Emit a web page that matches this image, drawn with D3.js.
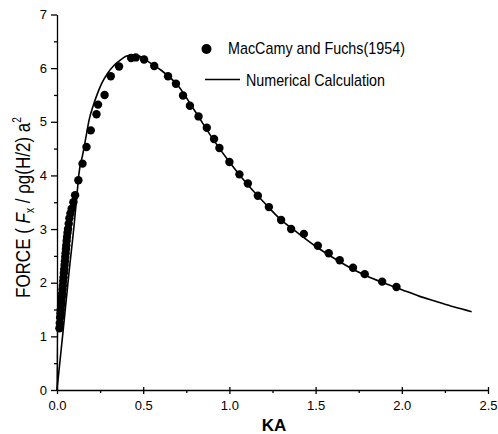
<!DOCTYPE html>
<html>
<head>
<meta charset="utf-8">
<script src="https://cdn.jsdelivr.net/npm/d3@7"></script>
<style>
  html, body { margin: 0; padding: 0; background: #fff; }
  svg { display: block; font-family: Arial, "Liberation Sans", sans-serif; }
  .axis path, .axis line { stroke: #000; stroke-width: 1.3; }
  .axis text { font-size: 13px; fill: #000; }
</style>
</head>
<body>
<div id="chart"></div>
<script>
// MacCamy and Fuchs (1954) measured points: KA and force
const dotKA = [0.014, 0.016, 0.018, 0.020, 0.022, 0.024, 0.026, 0.028, 0.030, 0.032,
  0.034, 0.036, 0.038, 0.040, 0.042, 0.044, 0.046, 0.048, 0.050, 0.052, 0.054, 0.056,
  0.058, 0.061, 0.064, 0.068, 0.072, 0.078, 0.085, 0.095, 0.105, 0.124, 0.148, 0.171,
  0.196, 0.229, 0.238, 0.276, 0.312, 0.360, 0.430, 0.457, 0.505, 0.564, 0.644, 0.690,
  0.731, 0.771, 0.821, 0.869, 0.911, 0.942, 1.000, 1.058, 1.107, 1.165, 1.229, 1.300,
  1.358, 1.432, 1.513, 1.576, 1.640, 1.717, 1.785, 1.886, 1.969];
const dotForce = [1.15, 1.25, 1.35, 1.43, 1.50, 1.58, 1.65, 1.73, 1.80, 1.88,
  1.95, 2.03, 2.10, 2.18, 2.25, 2.33, 2.40, 2.48, 2.55, 2.63, 2.70, 2.78,
  2.85, 2.93, 3.00, 3.10, 3.20, 3.29, 3.38, 3.50, 3.63, 3.91, 4.22, 4.53,
  4.84, 5.14, 5.32, 5.50, 5.85, 6.03, 6.19, 6.20, 6.16, 6.04, 5.85, 5.71,
  5.49, 5.30, 5.10, 4.89, 4.68, 4.51, 4.25, 4.02, 3.85, 3.62, 3.41, 3.17,
  3.00, 2.91, 2.69, 2.55, 2.42, 2.28, 2.16, 2.02, 1.92];

// Numerical calculation curve
const lineKA = [0, 0.036, 0.070, 0.100, 0.118, 0.126, 0.150, 0.170, 0.186, 0.210,
  0.234, 0.260, 0.293, 0.330, 0.360, 0.400, 0.440, 0.480, 0.520, 0.600, 0.700, 0.800,
  0.900, 1.000, 1.100, 1.200, 1.300, 1.400, 1.500, 1.600, 1.700, 1.800, 1.900, 2.000,
  2.100, 2.200, 2.300, 2.405];
const lineForce = [0, 1.12, 2.20, 3.10, 3.72, 4.00, 4.40, 4.75, 5.03, 5.30,
  5.52, 5.72, 5.90, 6.05, 6.13, 6.22, 6.25, 6.22, 6.14, 5.97, 5.68, 5.20,
  4.70, 4.25, 3.85, 3.50, 3.17, 2.92, 2.68, 2.47, 2.28, 2.12, 1.99, 1.87,
  1.75, 1.65, 1.55, 1.46];
// thin stroke from the origin up along the axis
const stubKA = [0, 0.004];
const stubForce = [0, 1.45];

const xMajor = [0, 0.5, 1.0, 1.5, 2.0, 2.5];
const xMinor = [0.25, 0.75, 1.25, 1.75, 2.25];
const yMajor = [0, 1, 2, 3, 4, 5, 6, 7];
const yMinor = [0.5, 1.5, 2.5, 3.5, 4.5, 5.5, 6.5];

const legendLabels = ['MacCamy and Fuchs(1954)', 'Numerical Calculation'];

const W = 498, H = 434;
const svg = d3.select('#chart').append('svg')
  .attr('width', W)
  .attr('height', H);

const x = d3.scaleLinear().domain([0, 2.5]).range([57, 488]);
const y = d3.scaleLinear().domain([0, 7]).range([390, 14.5]);

// X axis: crossing major ticks, small outward minor ticks
const xAxis = svg.append('g')
  .attr('class', 'axis')
  .attr('transform', `translate(0,${y(0)})`)
  .call(d3.axisBottom(x).tickValues(xMajor).tickSize(4).tickSizeOuter(0)
    .tickFormat(d3.format('.1f')));
xAxis.selectAll('.tick line').attr('y1', -3);
xAxis.selectAll('.tick text').attr('dy', 0).attr('y', 20);
svg.append('g')
  .attr('class', 'axis')
  .attr('transform', `translate(0,${y(0)})`)
  .call(d3.axisBottom(x).tickValues(xMinor).tickSize(3).tickFormat(''))
  .select('.domain').remove();

// Y axis
const yAxis = svg.append('g')
  .attr('class', 'axis')
  .attr('transform', `translate(${x(0)},0)`)
  .call(d3.axisLeft(y).tickValues(yMajor).tickSize(6).tickSizeOuter(0)
    .tickFormat(d3.format('d')));
yAxis.selectAll('.tick text').attr('x', -10);
svg.append('g')
  .attr('class', 'axis')
  .attr('transform', `translate(${x(0)},0)`)
  .call(d3.axisLeft(y).tickValues(yMinor).tickSize(3).tickFormat(''))
  .select('.domain').remove();

// Numerical curve
const pathLine = d3.line().x(d => x(d[0])).y(d => y(d[1]));
svg.append('path')
  .datum(lineKA.map((k, i) => [k, lineForce[i]]))
  .attr('fill', 'none')
  .attr('stroke', '#000')
  .attr('stroke-width', 1.6)
  .attr('d', pathLine.curve(d3.curveMonotoneX));
svg.append('path')
  .datum(stubKA.map((k, i) => [k, stubForce[i]]))
  .attr('fill', 'none')
  .attr('stroke', '#000')
  .attr('stroke-width', 1.2)
  .attr('d', d3.line().x(d => x(d[0])).y(d => y(d[1])));

// Measured points
svg.append('g')
  .selectAll('circle')
  .data(dotKA.map((k, i) => [k, dotForce[i]]))
  .enter().append('circle')
  .attr('cx', d => x(d[0]))
  .attr('cy', d => y(d[1]))
  .attr('r', 4.2)
  .attr('fill', '#000');

// Legend
const legend = svg.append('g');
legend.append('circle')
  .attr('cx', 206.5).attr('cy', 49).attr('r', 5).attr('fill', '#000');
legend.append('line')
  .attr('x1', 205).attr('x2', 240).attr('y1', 79.5).attr('y2', 79.5)
  .attr('stroke', '#000').attr('stroke-width', 1.6);
legend.append('text')
  .attr('x', 228).attr('y', 53.5)
  .attr('font-size', 17)
  .attr('textLength', 177).attr('lengthAdjust', 'spacingAndGlyphs')
  .text(legendLabels[0]);
legend.append('text')
  .attr('x', 246).attr('y', 86)
  .attr('font-size', 17)
  .attr('textLength', 139).attr('lengthAdjust', 'spacingAndGlyphs')
  .text(legendLabels[1]);

// Axis titles
svg.append('text')
  .attr('x', 274).attr('y', 431)
  .attr('text-anchor', 'middle')
  .attr('font-size', 17)
  .attr('font-weight', 'bold')
  .text('KA');

// condensed along the reading direction, like the scanned original
const yTitle = svg.append('text')
  .attr('transform', 'translate(30,298) rotate(-90) scale(0.85,1)')
  .attr('font-size', 20);
yTitle.append('tspan').text('FORCE (  ');
yTitle.append('tspan').attr('font-style', 'italic').text('F');
yTitle.append('tspan').attr('font-size', 12).attr('dy', 4).text('x');
yTitle.append('tspan').attr('dy', -4).text(' / ρg(H/2)  a');
yTitle.append('tspan').attr('font-size', 12).attr('dy', -9).text('2');
</script>
</body>
</html>
